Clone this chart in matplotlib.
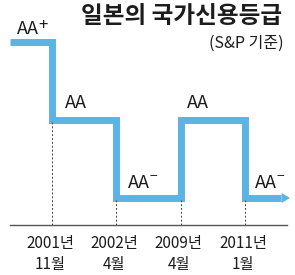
import matplotlib
matplotlib.use("Agg")
import matplotlib.pyplot as plt

plt.rcParams['font.family'] = ['Noto Sans CJK KR', 'DejaVu Sans']

# ---- data ----
dates = ['2001년\n11월', '2002년\n4월', '2009년\n4월', '2011년\n1월']
ratings = ['AA+', 'AA', 'AA-', 'AA', 'AA-']   # rating before first date, then after each date
levels = [3, 2, 1, 2, 1]                      # AA+ = 3, AA = 2, AA- = 1
title = '일본의 국가신용등급'
subtitle = '(S&P 기준)'

BLUE = '#5ab4e4'
TXT = '#1c1c1c'
DPI = 100
fig = plt.figure(figsize=(2.95, 2.75), dpi=DPI)
ax = fig.add_axes([0, 0, 1, 1])
ax.set_xlim(-0.809, 3.779)
ax.set_ylim(0.013, 3.538)
ax.axis('off')

xs_change = list(range(len(dates)))
x_start, x_end = -0.65, 3.70
baseline = 0.654

# step line
px, py = [x_start], [levels[0]]
for i, x in enumerate(xs_change):
    px += [x, x]
    py += [levels[i], levels[i + 1]]
px.append(x_end - 0.14)
py.append(levels[-1])
ax.plot(px, py, color=BLUE, lw=5, solid_joinstyle='miter', solid_capstyle='butt')
ax.annotate('', xy=(x_end, levels[-1]), xytext=(x_end - 0.22, levels[-1]),
            arrowprops=dict(arrowstyle='-|>,head_length=0.6,head_width=0.36',
                            color=BLUE, lw=0, shrinkA=0, shrinkB=0))

# dotted guide lines
for i, x in enumerate(xs_change):
    low = min(levels[i], levels[i + 1])
    ax.plot([x, x], [baseline, low - 0.03], color='#444444', lw=0.7,
            ls=(0, (2, 2)))

# baseline
ax.plot([x_start, x_end - 0.04], [baseline, baseline], color='#555555', lw=1)

# date labels
for x, d in zip(xs_change, dates):
    ax.text(x - 0.03, 0.525, d, ha='center', va='top', fontsize=11,
            color=TXT, linespacing=1.3)

# rating labels (main letters + raised sign)
label_x = [-0.544, 0.202, 1.182, 2.10, 3.157]
label_dy = [0.10, 0.154, 0.128, 0.154, 0.128]
renderer = fig.canvas.get_renderer()
for lx, lev, dy, r in zip(label_x, levels, label_dy, ratings):
    main = r.rstrip('+-')
    sign = r[len(main):]
    t = ax.text(lx, lev + dy, main, ha='left', va='baseline', fontsize=13,
                color=TXT)
    if sign:
        w = t.get_window_extent(renderer).width * 72 / DPI
        glyph = '+' if sign == '+' else '\u2212'
        ax.annotate(glyph, xy=(lx, lev + dy), xycoords='data',
                    xytext=(w - 0.6, 3.0 if sign == '+' else 5.0),
                    textcoords='offset points', ha='left', va='baseline',
                    fontsize=12 if sign == '+' else 10, color=TXT)

# title
ax.text(3.58, 3.33, title, ha='right', va='center', fontsize=17,
        fontweight='bold', color=TXT)
ax.text(3.60, 2.98, subtitle, ha='right', va='center', fontsize=11.5,
        color=TXT)

fig.savefig('out.png', dpi=DPI)
